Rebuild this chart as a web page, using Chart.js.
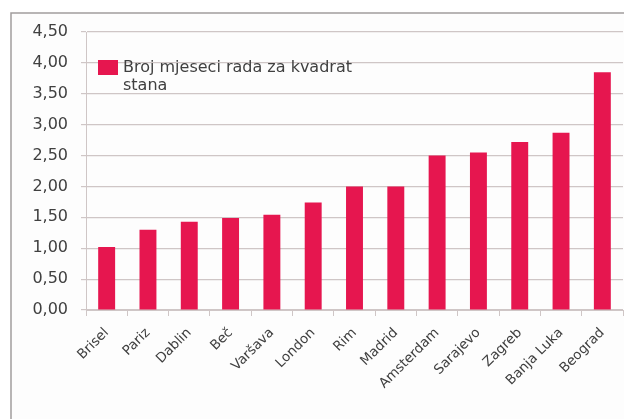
<!DOCTYPE html>
<html>
<head>
<meta charset="utf-8">
<script src="https://cdn.jsdelivr.net/npm/chart.js@4/dist/chart.umd.min.js"></script>
<style>
  html, body { margin: 0; padding: 0; background: #ffffff; }
  #wrap { width: 624px; height: 419px; position: relative; }
</style>
</head>
<body>
<div id="wrap"><canvas id="chart" width="624" height="419"></canvas></div>
<script>
const cities = ['Brisel', 'Pariz', 'Dablin', 'Beč', 'Varšava', 'London', 'Rim', 'Madrid',
    'Amsterdam', 'Sarajevo', 'Zagreb', 'Banja Luka', 'Beograd'];
const months = [1.02, 1.30, 1.43, 1.49, 1.54, 1.74, 2.00, 2.00, 2.50, 2.55, 2.72, 2.87, 3.85];
const seriesName = 'Broj mjeseci rada za kvadrat stana';

const barColor = '#e6164f';
const textColor = '#404040';
const gridColor = '#cfc6c6';
const fontFamily = '"DejaVu Sans", Verdana, sans-serif';

// frame around the chart + light background
const framePlugin = {
    id: 'frame',
    beforeDraw(chart) {
        const ctx = chart.ctx;
        ctx.save();
        ctx.fillStyle = '#fdfdfd';
        ctx.fillRect(11, 13, chart.width, chart.height);
        ctx.strokeStyle = '#a19d9d';
        ctx.lineWidth = 1.5;
        ctx.beginPath();
        ctx.moveTo(11, chart.height + 2);
        ctx.lineTo(11, 13);
        ctx.lineTo(chart.width + 2, 13);
        ctx.stroke();
        ctx.restore();
    }
};

// legend sits inside the plot area, text wrapped onto two lines
const innerLegend = {
    id: 'innerLegend',
    afterDraw(chart) {
        const ctx = chart.ctx;
        const ds = chart.data.datasets[0];
        const area = chart.chartArea;
        const x = area.left + 12;
        const y = area.top + 28;
        ctx.save();
        ctx.fillStyle = ds.backgroundColor;
        ctx.fillRect(x, y, 20, 15);
        ctx.font = '16px ' + fontFamily;
        ctx.fillStyle = textColor;
        ctx.textBaseline = 'middle';
        const words = ds.label.split(' ');
        const line1 = words.slice(0, words.length - 1).join(' ');
        const line2 = words[words.length - 1];
        ctx.fillText(line1, x + 25, y + 8);
        ctx.fillText(line2, x + 25, y + 26);
        ctx.restore();
    }
};

const ctx = document.getElementById('chart').getContext('2d');
new Chart(ctx, {
    type: 'bar',
    data: {
        labels: cities,
        datasets: [{
            label: seriesName,
            data: months,
            backgroundColor: barColor,
            borderWidth: 0,
            categoryPercentage: 1,
            barPercentage: 0.41
        }]
    },
    options: {
        responsive: false,
        animation: false,
        devicePixelRatio: 1,
        layout: { padding: { top: 32, right: 1, left: 0, bottom: 0 } },
        scales: {
            x: {
                grid: {
                    display: true,
                    drawOnChartArea: false,
                    offset: true,
                    color: gridColor,
                    tickLength: 6
                },
                border: { color: gridColor },
                ticks: {
                    color: textColor,
                    font: { family: fontFamily, size: 13.5 },
                    minRotation: 45,
                    maxRotation: 45,
                    autoSkip: false,
                    padding: 9
                },
                afterFit(scale) { scale.height = 109; }
            },
            y: {
                min: 0,
                max: 4.5,
                ticks: {
                    stepSize: 0.5,
                    color: textColor,
                    padding: 13,
                    font: { family: fontFamily, size: 16 },
                    callback: v => v.toFixed(2).replace('.', ',')
                },
                grid: { color: gridColor, tickLength: 5, lineWidth: 1.2 },
                border: { color: gridColor },
                afterFit(scale) { scale.width = 86; }
            }
        },
        plugins: {
            legend: { display: false },
            tooltip: { enabled: false }
        }
    },
    plugins: [framePlugin, innerLegend]
});
</script>
</body>
</html>
